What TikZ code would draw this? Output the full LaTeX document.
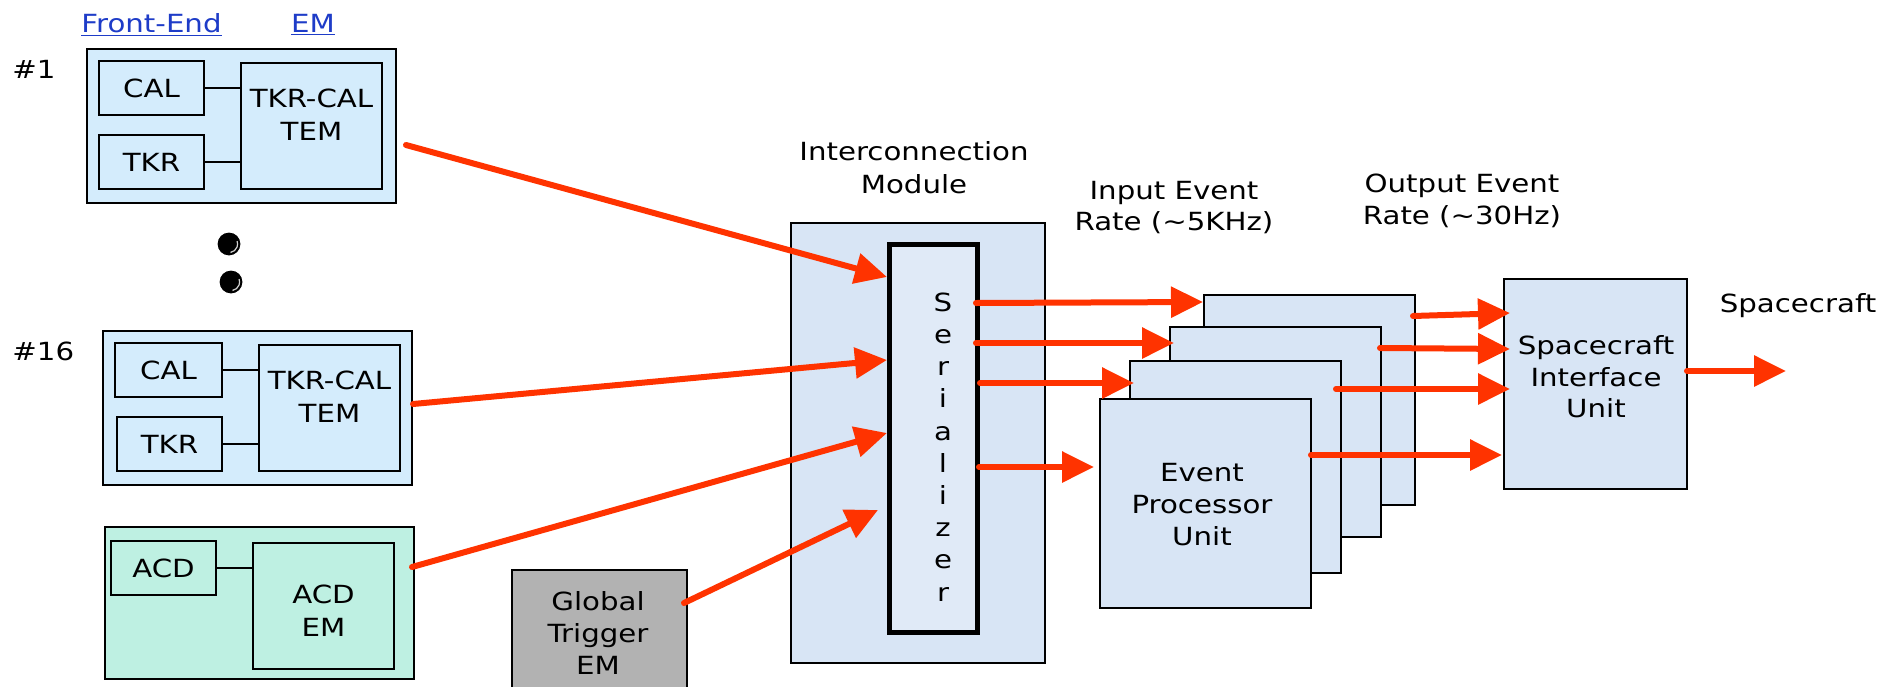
\documentclass[tikz,border=0pt]{standalone}
\usepackage{fontspec}
\setmainfont{DejaVu Sans}[FakeStretch=1.17]
\usetikzlibrary{arrows.meta,fit,calc}
\definecolor{arrowred}{RGB}{255,51,0}
\definecolor{feblue}{RGB}{212,236,252}
\definecolor{acdgreen}{RGB}{190,240,226}
\definecolor{panelblue}{RGB}{216,229,245}
\definecolor{gtgray}{RGB}{178,178,178}
\definecolor{linkblue}{RGB}{30,60,200}
\begin{document}
\begin{tikzpicture}[x=0.5pt, y=-0.5pt]
\tikzset{
  blk/.style={draw=black, line width=1pt, inner sep=0pt},
  txt/.style={font=\fontsize{12.5pt}{16.5pt}\selectfont, inner sep=0pt},
  multi/.style={txt, align=center},
  wire/.style={draw=black, line width=1pt},
  conn/.style={draw=arrowred, line width=3pt, line cap=round, -{Triangle[length=16pt,width=15pt]}},
}
\useasboundingbox (0,0) rectangle (1895,686);
\fill[white] (0,0) rectangle (1895,686);

% column headings
\node[txt, text=linkblue, anchor=base] (hfe) at (151.5,32) {\underline{Front-End}};
\node[txt, text=linkblue, anchor=base] (hem) at (313,32) {\underline{EM}};
\node[txt, anchor=base west] (n1) at (12,78) {\#1};
\node[txt, anchor=base west] (n16) at (12,360) {\#16};

% tower #1
\node[blk, fill=feblue, fit={(87,49) (396,203)}] (fe1) {};
\node[blk, fill=feblue, fit={(99,61) (204,115)}] (cal1) {};
\node[txt] (cal1t) at (cal1.center) {CAL};
\node[blk, fill=feblue, fit={(99,135) (204,189)}] (tkr1) {};
\node[txt] (tkr1t) at (tkr1.center) {TKR};
\node[blk, fill=feblue, fit={(241,63) (382,189)}] (tem1) {};
\node[multi] (tem1t) at (311.5,115) {TKR-CAL\\TEM};
\draw[wire] (cal1.east) -- (cal1.east -| tem1.west);
\draw[wire] (tkr1.east) -- (tkr1.east -| tem1.west);

% ellipsis dots
\foreach \p/\q in {229/244, 231/282}{
  \fill[black] (\p,\q) circle[radius=5.7pt];
  \draw[gray!35, line width=0.6pt] ($(\p,\q)+(-80:4.3pt)$) arc[start angle=-80, end angle=20, radius=4.3pt];
}

% tower #16
\node[blk, fill=feblue, fit={(103,331) (412,485)}] (fe16) {};
\node[blk, fill=feblue, fit={(115,343) (222,397)}] (cal16) {};
\node[txt] (cal16t) at (cal16.center) {CAL};
\node[blk, fill=feblue, fit={(117,417) (222,471)}] (tkr16) {};
\node[txt] (tkr16t) at (tkr16.center) {TKR};
\node[blk, fill=feblue, fit={(259,345) (400,471)}] (tem16) {};
\node[multi] (tem16t) at (329.5,397) {TKR-CAL\\TEM};
\draw[wire] (cal16.east) -- (cal16.east -| tem16.west);
\draw[wire] (tkr16.east) -- (tkr16.east -| tem16.west);

% ACD
\node[blk, fill=acdgreen, fit={(105,527) (414,679)}] (acd) {};
\node[blk, fill=acdgreen, fit={(111,541) (216,595)}] (acdfe) {};
\node[txt] (acdfet) at (acdfe.center) {ACD};
\node[blk, fill=acdgreen, fit={(253,543) (394,669)}] (acdem) {};
\node[multi] (acdemt) at (323.5,611) {ACD\\EM};
\draw[wire] (acdfe.east) -- (acdfe.east -| acdem.west);

% global trigger
\node[blk, fill=gtgray, fit={(512,570) (687,700)}] (gt) {};
\node[multi, font=\fontsize{12.5pt}{16pt}\selectfont] (gtt) at (598,633) {Global\\Trigger\\EM};

% interconnection module with serializer
\node[multi] (icmt) at (914,167.5) {Interconnection\\Module};
\node[blk, fill=panelblue, fit={(791,223) (1045,663)}] (icm) {};
\node[blk, line width=2.5pt, fill=panelblue!80!white, fit={(889.5,244.5) (977.5,632.5)}] (ser) {};
\node[multi, font=\fontsize{12.5pt}{16.1pt}\selectfont] (sert) at (943,447) {S\\e\\r\\i\\a\\l\\i\\z\\e\\r};

% event processor units, back to front
\node[blk, fill=panelblue, fit={(1204,295) (1415,505)}] (e1) {};
\node[blk, fill=panelblue, fit={(1170,327) (1381,537)}] (e2) {};
\node[blk, fill=panelblue, fit={(1130,361) (1341,573)}] (e3) {};
\node[blk, fill=panelblue, fit={(1100,399) (1311,608)}] (e4) {};
\node[multi, font=\fontsize{12.5pt}{16pt}\selectfont] (e4t) at (1202,505) {Event\\Processor\\Unit};

% spacecraft interface unit
\node[blk, fill=panelblue, fit={(1504,279) (1687,489)}] (siu) {};
\node[multi, font=\fontsize{12.5pt}{15.75pt}\selectfont] (siut) at (1596,377) {Spacecraft\\Interface\\Unit};

% rate labels
\node[multi, font=\fontsize{12.5pt}{15.5pt}\selectfont] (inrate) at (1174,208) {Input Event\\Rate (\textasciitilde5KHz)};
\node[multi, font=\fontsize{12.5pt}{16pt}\selectfont] (outrate) at (1462,201) {Output Event\\Rate (\textasciitilde30Hz)};
\node[txt] (sclbl) at (1798,306) {Spacecraft};
\coordinate (scout) at (1786,371);

% links into the serializer
\draw[conn] ($(fe1.east)+(9,19)$) -- ($(ser.west)+(0,-161.5)$);
\draw[conn] ($(fe16.east)+(0,-4)$) -- ($(ser.west)+(0,-78.5)$);
\draw[conn] ($(acd.east)+(-3,-36)$) -- ($(ser.west)+(0,-5.5)$);
\draw[conn] ($(gt.north east)+(-4,34)$) -- ($(ser.west)+(-9,71.5)$);

% serializer to event processors
\draw[conn] ($(ser.east)+(-4,-135.5)$) -- ($(e1.north west)+(0,8)$);
\draw[conn] ($(ser.east)+(-4,-95.5)$) -- ($(e2.north west)+(5,17)$);
\draw[conn] ($(ser.east)+(0,-55.5)$) -- ($(e3.north west)+(5,23)$);
\draw[conn] ($(ser.east)+(-1,28.5)$) -- ($(e4.north west)+(-5,69)$);

% event processors to interface unit
\draw[conn] ($(e1.north east)+(-3,22)$) -- ($(siu.north west)+(7,35)$);
\draw[conn] ($(e2.north east)+(-2,22)$) -- ($(siu.north west)+(7,71)$);
\draw[conn] ($(e3.north east)+(-6,29)$) -- ($(siu.north west)+(7,111)$);
\draw[conn] ($(e4.north east)+(-1,57)$) -- ($(siu.north west)+(-1,177)$);

% interface unit to spacecraft
\draw[conn] ($(siu.east)+(-1,-13)$) -- (scout);
\end{tikzpicture}
\end{document}
